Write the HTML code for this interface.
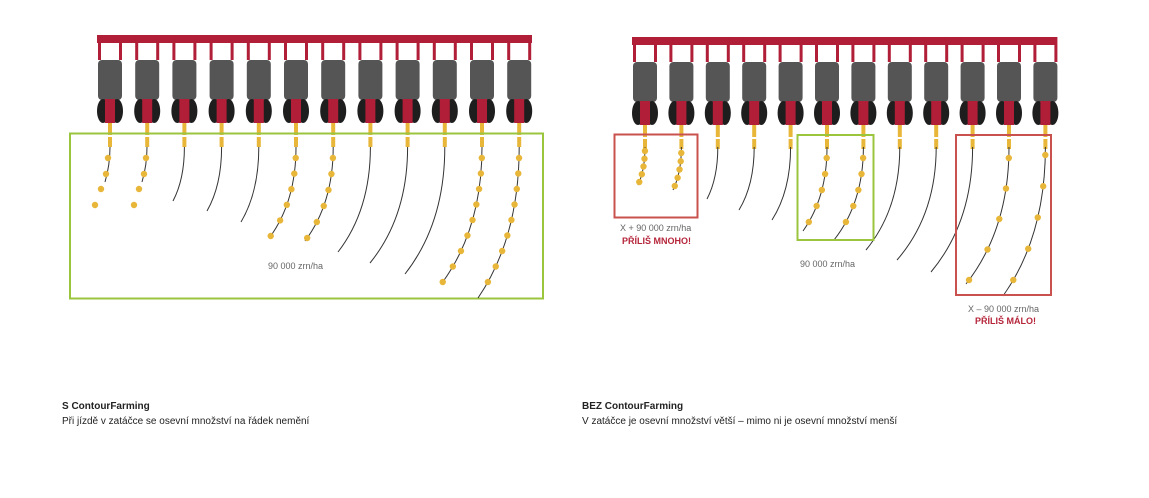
<!DOCTYPE html>
<html><head><meta charset="utf-8"><style>
body{margin:0;background:#fff;width:1149px;height:498px;position:relative;overflow:hidden;font-family:"Liberation Sans",sans-serif}
svg{position:absolute;left:0;top:0}
.t{position:absolute;font-size:10px;color:#222;white-space:nowrap}
.b{font-weight:bold}
.g{color:#666;font-size:9px}
.r{color:#b5253a;font-weight:bold;font-size:9px}
</style></head><body>
<svg id="s" width="1149" height="498" viewBox="0 0 1149 498"></svg>
<div class="t b" style="left:62px;top:401px">S ContourFarming</div>
<div class="t" style="left:62px;top:416px">Při jízdě v zatáčce se osevní množství na řádek nemění</div>
<div class="t b" style="left:582px;top:401px">BEZ ContourFarming</div>
<div class="t" style="left:582px;top:416px">V zatáčce je osevní množství větší – mimo ni je osevní množství menší</div>
<div class="t g" style="left:268px;top:261px">90 000 zrn/ha</div>
<div class="t g" style="left:800px;top:259px">90 000 zrn/ha</div>
<div class="t g" style="left:620px;top:223px">X + 90 000 zrn/ha</div>
<div class="t r" style="left:622px;top:236px">PŘÍLIŠ MNOHO!</div>
<div class="t g" style="left:968px;top:304px">X – 90 000 zrn/ha</div>
<div class="t r" style="left:975px;top:316px">PŘÍLIŠ MÁLO!</div>
<script>
var s=document.getElementById('s'),h='';
function machine(x0,x1,top,cs){
 h+='<rect x="'+x0+'" y="'+top+'" width="'+(x1-x0)+'" height="8" fill="#b01f37"/>';
 cs.forEach(function(c){
  h+='<rect x="'+(c-12)+'" y="'+top+'" width="3" height="25" fill="#b01f37"/>';
  h+='<rect x="'+(c+9)+'" y="'+top+'" width="3" height="25" fill="#b01f37"/>';
  h+='<rect x="'+(c-12)+'" y="'+(top+25)+'" width="24" height="40" rx="4" fill="#555"/>';
  h+='<ellipse cx="'+(c-7)+'" cy="'+(top+76)+'" rx="6" ry="12" fill="#1e1e1e"/>';
  h+='<ellipse cx="'+(c+7)+'" cy="'+(top+76)+'" rx="6" ry="12" fill="#1e1e1e"/>';
  h+='<rect x="'+(c-5)+'" y="'+(top+64)+'" width="10" height="24" fill="#b01f37"/>';
  h+='<rect x="'+(c-2)+'" y="'+(top+88)+'" width="4" height="12" fill="#e8b73a"/>';
  h+='<rect x="'+(c-2)+'" y="'+(top+102)+'" width="4" height="10" fill="#e8b73a"/>';
 });
}
function dot(x,y){h+='<circle cx="'+x+'" cy="'+y+'" r="3.2" fill="#e8b73a"/>';}
function curve(c,ex,ey,ys){
 var sy=147,cx=c,cy=(sy+ey)/2+(ey-sy)*0.1;
 h+='<path d="M'+c+' '+sy+' Q'+cx+' '+cy+' '+ex+' '+ey+'" fill="none" stroke="#333" stroke-width="1"/>';
 (ys||[]).forEach(function(yy){
  var lo=0,hi=1.6,t,y;
  for(var k=0;k<40;k++){t=(lo+hi)/2;y=(1-t)*(1-t)*sy+2*(1-t)*t*cy+t*t*ey;if(y<yy)lo=t;else hi=t;}
  var x=(1-t)*(1-t)*c+2*(1-t)*t*cx+t*t*ex;dot(x,yy);
 });
}
function rng(a,b,n){var r=[];for(var i=0;i<n;i++)r.push(a+(b-a)*i/(n-1));return r;}
var L=[],R=[];for(var i=0;i<12;i++){L.push(110+i*37.2);R.push(645+i*36.4);}
machine(97,532,35,L);machine(632,1057,37,R);
h+='<rect x="70" y="133.5" width="473" height="165" fill="none" stroke="#9bc53d" stroke-width="2"/>';
// left
h+='<path d="M110 147 Q110 165 105 182" fill="none" stroke="#333"/>';
h+='<path d="M147 147 Q147 165 142 182" fill="none" stroke="#333"/>';
[[108,158],[106,174],[101,189],[95,205]].forEach(function(p){dot(p[0],p[1]);});
[[146,158],[144,174],[139,189],[134,205]].forEach(function(p){dot(p[0],p[1]);});
var le=[null,null,[173,201],[207,211],[241,222],[270,237,rng(158,236,6)],[305,241,rng(158,238,6)],[338,252],[370,263],[405,274],[442,283,rng(158,282,9)],[478,298,rng(158,282,9)]];
le.forEach(function(e,i){if(e)curve(L[i],e[0],e[1],e[2]);});
// right
var re=[[638,185,rng(151,182,5)],[673,190,rng(153,186,5)],[707,199],[739,210],[772,220],[803,231,rng(158,222,5)],[834,240,rng(158,222,5)],[866,250],[897,260],[931,272],[966,284,rng(158,280,5)],[1003,296,rng(155,280,5)]];
re.forEach(function(e,i){curve(R[i],e[0],e[1],e[2]);});
h+='<rect x="614.5" y="134.5" width="83" height="83" fill="none" stroke="#c9524f" stroke-width="2"/>';
h+='<rect x="797.5" y="135" width="76" height="105" fill="none" stroke="#9bc53d" stroke-width="2"/>';
h+='<rect x="956" y="135" width="95" height="160" fill="none" stroke="#c9524f" stroke-width="2"/>';
s.innerHTML=h;
</script>
</body></html>
